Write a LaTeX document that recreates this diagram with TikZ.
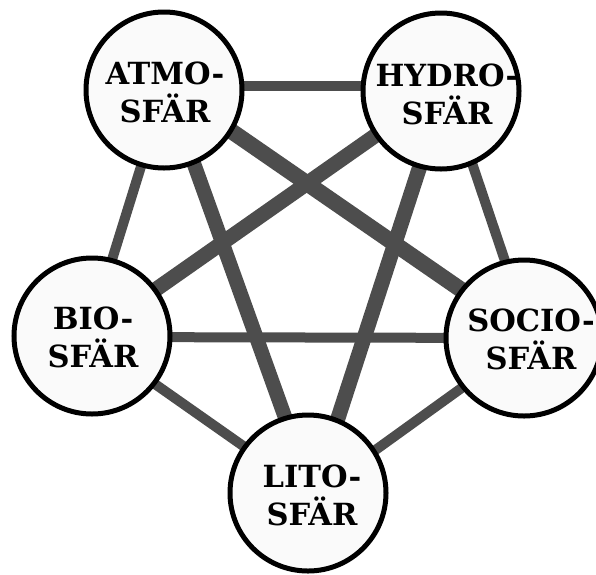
\documentclass[tikz,border=0pt]{standalone}
\usepackage{fontspec}
\setmainfont{DejaVu Serif}
\definecolor{edgegray}{HTML}{4D4D4D}
\definecolor{discfill}{HTML}{FAFAFA}
\tikzset{
  thinlink/.style={draw=edgegray, line width=10pt},
  thicklink/.style={draw=edgegray, line width=15pt},
  disc/.style={circle, draw=black, line width=5pt, fill=discfill, minimum size=156pt, inner sep=0pt},
  sphlabel/.style={align=center, inner sep=0pt, font=\fontsize{30.5}{38}\selectfont\bfseries}
}
\begin{document}
\begin{tikzpicture}[x=1pt, y=-1pt]
\useasboundingbox (0,0) rectangle (596,574);
% graph points
\coordinate (atmo) at (166,86);
\coordinate (hydro) at (446,86);
\coordinate (bio) at (88,337);
\coordinate (socio) at (531,338);
\coordinate (lito) at (313,495);
% pentagon links
\draw[thinlink] (atmo) -- (hydro);
\draw[thinlink] (hydro) -- (socio);
\draw[thinlink] (socio) -- (lito);
\draw[thinlink] (lito) -- (bio);
\draw[thinlink] (bio) -- (atmo);
\draw[thinlink] (bio) -- (socio);
% star links
\draw[thicklink, line width=16pt] (atmo) -- (socio);
\draw[thicklink] (hydro) -- (bio);
\draw[thicklink] (hydro) -- (lito);
\draw[thicklink, line width=14.5pt] (atmo) -- (lito);
% circles
\node[disc] (atmoC) at (164,90) {};
\node[disc] (hydroC) at (441,91) {};
\node[disc] (bioC) at (92,336) {};
\node[disc] (socioC) at (524,338) {};
\node[disc] (litoC) at (308,493) {};
% labels
\node[sphlabel] (atmoL) at (165,92) {ATMO-\\SFÄR};
\node[sphlabel] (hydroL) at (447,94) {HYDRO-\\SFÄR};
\node[sphlabel] (bioL) at (93,337) {BIO-\\SFÄR};
\node[sphlabel] (socioL) at (531,339) {SOCIO-\\SFÄR};
\node[sphlabel] (litoL) at (312,495) {LITO-\\SFÄR};
\end{tikzpicture}
\end{document}
